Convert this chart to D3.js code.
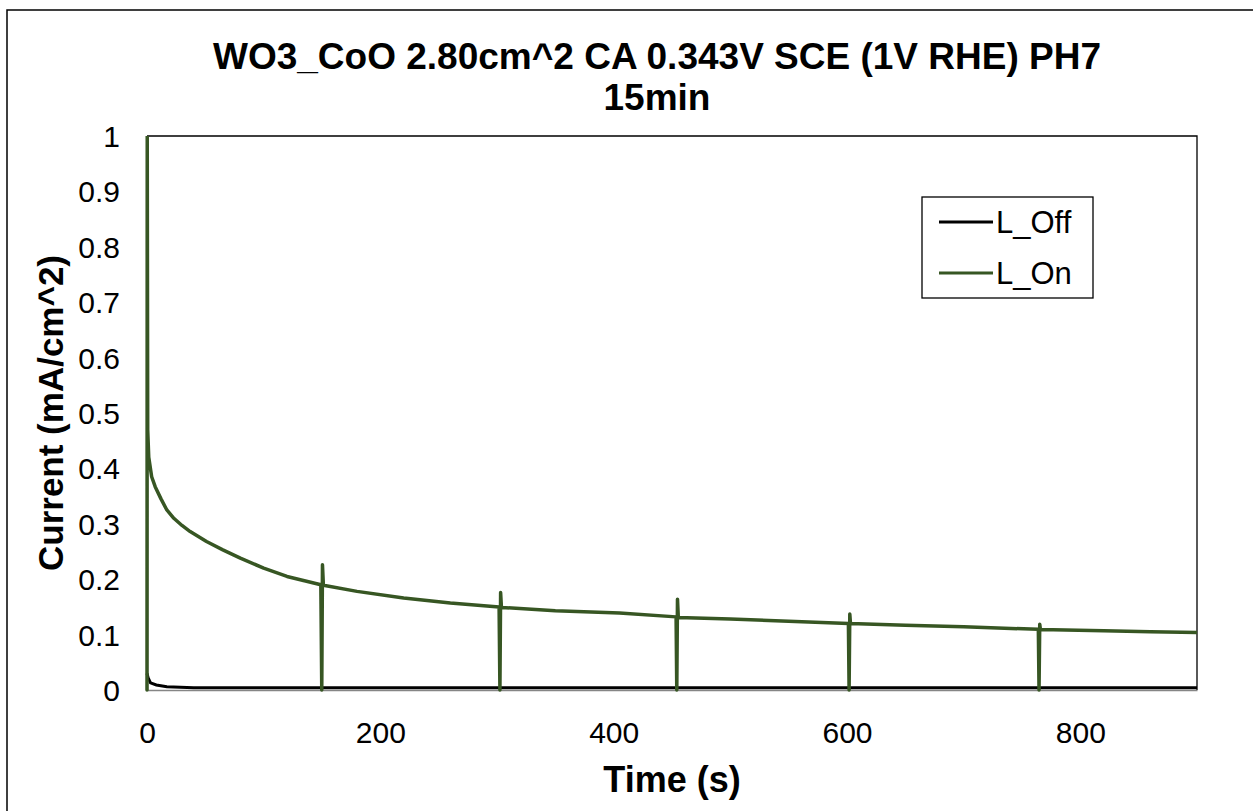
<!DOCTYPE html>
<html>
<head>
<meta charset="utf-8">
<script src="https://cdn.jsdelivr.net/npm/d3@7"></script>
<style>
  html, body { margin: 0; padding: 0; background: #fff; }
  svg { display: block; font-family: Arial, "Liberation Sans", sans-serif; }
</style>
</head>
<body>
<svg id="chart" width="1253" height="811"></svg>
<script>
// Chronoamperometry trace, light on (green) and light off (black)
const onTime = [0, 0.2, 0.6, 1.5, 4, 7, 12, 17, 23, 30, 37, 51, 65, 80, 100, 120, 149,
  149.8, 150.4, 151.2, 180, 220, 260, 301.8,
  302.5, 303.1, 303.8, 350, 405, 453.5,
  454.1, 454.7, 455.4, 500, 550, 601.2,
  601.8, 602.4, 603, 650, 700, 764,
  764.6, 765.2, 765.8, 820, 860, 900];
const onValue = [0.0, 1.0, 0.47, 0.42, 0.385, 0.367, 0.345, 0.325, 0.31, 0.297, 0.286, 0.268, 0.253, 0.238, 0.22, 0.205, 0.19,
  0.0, 0.226, 0.189, 0.178, 0.166, 0.157, 0.150,
  0.0, 0.176, 0.149, 0.143, 0.139, 0.132,
  0.0, 0.164, 0.131, 0.128, 0.124, 0.120,
  0.0, 0.137, 0.120, 0.117, 0.114, 0.1095,
  0.0, 0.1186, 0.109, 0.107, 0.105, 0.104];

const offTime = [0, 1, 3, 8, 17, 40, 900];
const offValue = [0.03, 0.022, 0.013, 0.009, 0.006, 0.004, 0.004];

const xTicks = [0, 200, 400, 600, 800];
const yTicks = [0, 0.1, 0.2, 0.3, 0.4, 0.5, 0.6, 0.7, 0.8, 0.9, 1];

const seriesNames = ["L_Off", "L_On"];
const seriesColors = ["#000000", "#375623"];

const titleLines = ["WO3_CoO 2.80cm^2 CA 0.343V SCE (1V RHE) PH7", "15min"];

const svg = d3.select("#chart");

// outer chart frame
svg.append("rect")
  .attr("x", 7).attr("y", 10)
  .attr("width", 1260).attr("height", 820)
  .attr("fill", "#fff").attr("stroke", "#000").attr("stroke-width", 1.5);

const plot = { left: 147, right: 1197, top: 136, bottom: 690 };

const x = d3.scaleLinear().domain([0, 900]).range([plot.left, plot.right]);
const y = d3.scaleLinear().domain([0, 1]).range([plot.bottom, plot.top]);

// plot area border (top and right)
svg.append("path")
  .attr("d", `M${plot.left},${plot.top}H${plot.right}V${plot.bottom}`)
  .attr("fill", "none").attr("stroke", "#000").attr("stroke-width", 1.3);

// axes
const xAxis = svg.append("g")
  .attr("transform", `translate(0,${plot.bottom})`)
  .call(d3.axisBottom(x).tickValues(xTicks).tickSize(0).tickPadding(32).tickFormat(d3.format("d")));
const yAxis = svg.append("g")
  .attr("transform", `translate(${plot.left},0)`)
  .call(d3.axisLeft(y).tickValues(yTicks).tickSize(0).tickPadding(27).tickFormat(d => d === 0 || d === 1 ? String(d) : d3.format(".1f")(d)));

[xAxis, yAxis].forEach(g => {
  g.attr("font-size", null).attr("font-family", null);
  g.select(".domain").attr("stroke", "#868686").attr("stroke-width", 1.5);
  g.selectAll("text").attr("font-size", 30).attr("fill", "#000");
});
xAxis.selectAll("text").attr("dy", "0.71em");
yAxis.selectAll("text").attr("dy", "0.35em");

svg.append("clipPath").attr("id", "plotClip")
  .append("rect")
  .attr("x", plot.left - 3).attr("y", plot.top)
  .attr("width", plot.right - plot.left + 3).attr("height", plot.bottom - plot.top + 3);

const line = d3.line().x(d => x(d[0])).y(d => y(d[1]));

const gData = svg.append("g").attr("clip-path", "url(#plotClip)");

gData.append("path")
  .datum(offTime.map((t, i) => [t, offValue[i]]))
  .attr("d", line)
  .attr("fill", "none").attr("stroke", seriesColors[0]).attr("stroke-width", 3);

gData.append("path")
  .datum(onTime.map((t, i) => [t, onValue[i]]))
  .attr("d", line)
  .attr("fill", "none").attr("stroke", seriesColors[1]).attr("stroke-width", 3.5)
  .attr("stroke-linejoin", "round").attr("stroke-linecap", "round");

// two-line title
titleLines.forEach((s, i) => {
  svg.append("text")
    .attr("x", 657).attr("y", i === 0 ? 69 : 110)
    .attr("text-anchor", "middle")
    .attr("font-size", 37).attr("font-weight", "bold")
    .text(s);
});

// axis titles
svg.append("text")
  .attr("x", 672).attr("y", 792)
  .attr("text-anchor", "middle")
  .attr("font-size", 36).attr("font-weight", "bold")
  .text("Time (s)");

svg.append("text")
  .attr("transform", "translate(63,413) rotate(-90)")
  .attr("text-anchor", "middle")
  .attr("font-size", 35).attr("font-weight", "bold")
  .text("Current (mA/cm^2)");

// legend
const legend = svg.append("g");
legend.append("rect")
  .attr("x", 922).attr("y", 197).attr("width", 171).attr("height", 101)
  .attr("fill", "#fff").attr("stroke", "#000").attr("stroke-width", 1.3);
seriesNames.forEach((name, i) => {
  const ly = 222 + i * 51;
  legend.append("line")
    .attr("x1", 939).attr("x2", 993).attr("y1", ly).attr("y2", ly)
    .attr("stroke", seriesColors[i]).attr("stroke-width", 3);
  legend.append("text")
    .attr("x", 996).attr("y", ly).attr("dy", "0.35em")
    .attr("font-size", 31).text(name);
});
</script>
</body>
</html>
